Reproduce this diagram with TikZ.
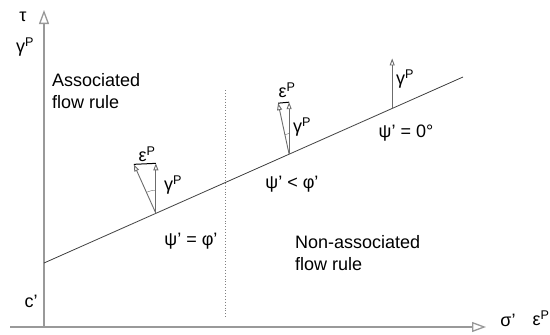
\documentclass[tikz,border=0pt]{standalone}
\usepackage{fontspec}
\setmainfont{Liberation Sans}
\usetikzlibrary{arrows.meta,calc}
\newcommand{\gP}{γ\textsuperscript{P}}
\newcommand{\eP}{ε\textsuperscript{P}}
\tikzset{
  axis/.style={draw=gray!80,line width=1.3pt,-{Triangle[open,length=14pt,width=10pt]}},
  vec/.style={draw=gray!85!black,line width=0.9pt,-{Triangle[open,length=7pt,width=5pt]}},
  yld/.style={draw=black!75,line width=0.8pt},
  lbl/.style={font=\fontsize{18}{22}\selectfont,inner sep=0pt},
}
\begin{document}
\begin{tikzpicture}[x=1pt,y=-1pt]
 \useasboundingbox (0,0) rectangle (550,335);
 % axes
 \coordinate (xs) at (10,327); \coordinate (xe) at (486,327);
 \coordinate (ys) at (44,327); \coordinate (ye) at (44,10);
 \draw[axis] (xs) -- (xe);
 \draw[axis] (ys) -- (ye);
 \node[lbl] (tau) at (23,17) {τ};
 \node[lbl] (gax) at (25,47) {\gP};
 \node[lbl] (sig) at (508,320) {σ’};
 \node[lbl] (eax) at (541,318) {\eP};
 \node[lbl] (cc) at (31,301) {c’};
 % yield line and divider
 \coordinate (c) at (44,263); \coordinate (f) at (463,77);
 \draw[yld] (c) -- (f);
 \coordinate (d1) at (225,90); \coordinate (d2) at (225,318);
 \draw[gray,dotted,line width=0.9pt] (d1) -- (d2);
 % associated
 \coordinate (b1) at ($(c)!0.267!(f)$);
 \coordinate (g1) at ($(b1)+(0,-50)$); \coordinate (e1) at ($(b1)+(-22,-49)$);
 \draw[vec] (b1) -- (g1); \draw[vec] (b1) -- (e1);
 \draw[line width=1pt] (g1) -- (e1);
 \draw[gray!85!black,thin] ($(b1)!0.46!(g1)$) to[bend right=12] ($(b1)!0.43!(e1)$);
 \node[lbl] (e1l) at (147,154) {\eP};
 \node[lbl] (g1l) at (173,185) {\gP};
 % non-associated
 \coordinate (b2) at ($(c)!0.585!(f)$);
 \coordinate (g2) at ($(b2)+(0,-52)$); \coordinate (e2) at ($(b2)+(-11,-51)$);
 \draw[vec] (b2) -- (g2); \draw[vec] (b2) -- (e2);
 \draw[line width=1pt] (g2) -- (e2);
 \draw[gray!85!black,thin] ($(b2)!0.4!(g2)$) to[bend right=12] ($(b2)!0.38!(e2)$);
 \node[lbl] (e2l) at (287,90) {\eP};
 \node[lbl] (g2l) at (302,127) {\gP};
 % zero dilatancy
 \coordinate (b3) at ($(c)!0.831!(f)$);
 \coordinate (g3) at ($(b3)+(0,-50)$);
 \draw[vec] (b3) -- (g3);
 \node[lbl] (g3l) at (405,79) {\gP};
 % text
 \node[lbl,align=left,anchor=west] (asc) at (52,91) {Associated\\flow rule};
 \node[lbl,align=left,anchor=west] (nasc) at (295,253) {Non-associated\\flow rule};
 \node[lbl] (p1) at (191,241) {ψ’ = φ’};
 \node[lbl] (p2) at (292,184) {ψ’ < φ’};
 \node[lbl] (p3) at (406,133) {ψ’ = 0°};
\end{tikzpicture}
\end{document}
